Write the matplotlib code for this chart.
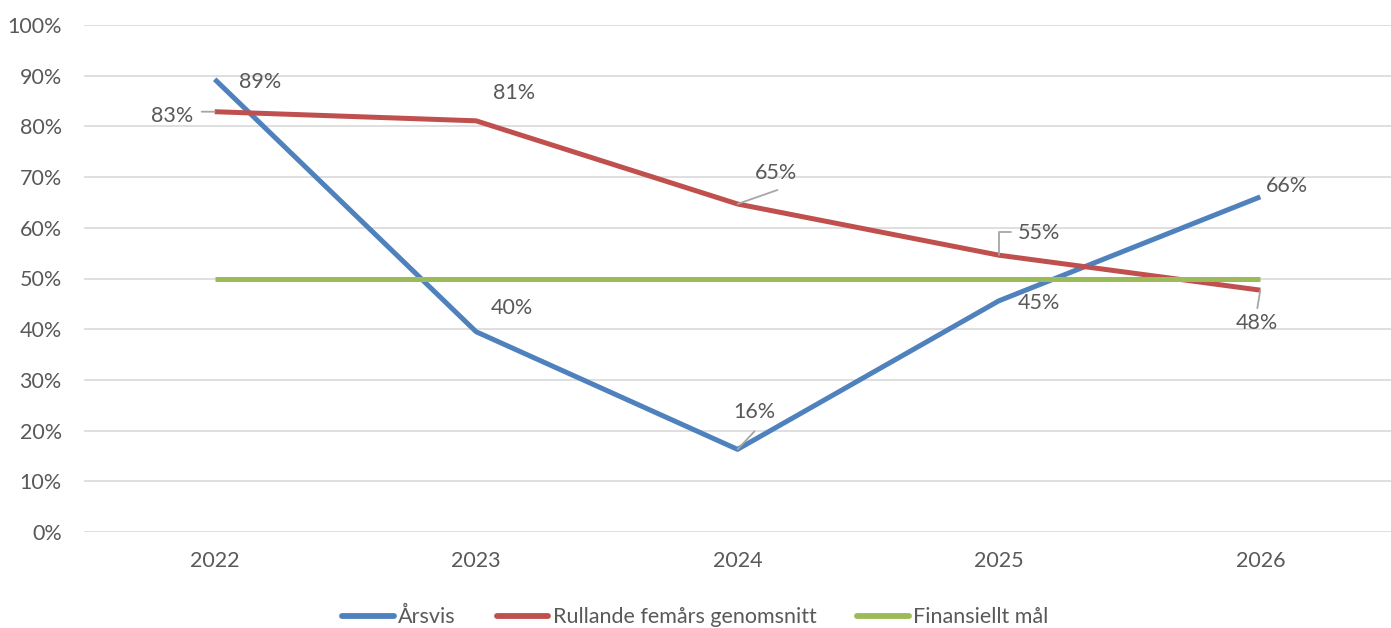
import matplotlib.pyplot as plt
import numpy as np

# Data
years = ["2022", "2023", "2024", "2025", "2026"]
arsvis = [89.3, 39.5, 16.3, 45.6, 66.1]
rullande = [82.9, 81.1, 64.7, 54.6, 47.7]
mal = [50, 50, 50, 50, 50]
arsvis_labels = ["89%", "40%", "16%", "45%", "66%"]
rullande_labels = ["83%", "81%", "65%", "55%", "48%"]

plt.rcParams["font.family"] = ["Lato", "DejaVu Sans"]
txt = "#595959"
fs = 15.5

fig = plt.figure(figsize=(13.91, 6.28), dpi=100)
ax = fig.add_axes([84 / 1391, 1 - 532 / 628, 1 - 84 / 1391, (532 - 25) / 628])

x = np.arange(len(years))
ax.plot(x, arsvis, color="#4F81BD", lw=3.6, label="Årsvis", solid_capstyle="butt")
ax.plot(x, rullande, color="#C0504D", lw=3.6, label="Rullande femårs genomsnitt", solid_capstyle="butt")
ax.plot(x, mal, color="#9BBB59", lw=3.6, label="Finansiellt mål", solid_capstyle="butt")

# label offsets in pixels (dx, dy), dy positive = up
arsvis_off = [(45, -3), (36, 24), (17, 37), (40, -2), (27, 11)]
rullande_off = [(-43, -4), (38, 28), (38, 31), (40, 22), (-3, -33)]
# leader line end (pixels) or None
arsvis_lead = [None, None, (17, 18), None, None]
rullande_lead = [(-13, 0), None, (40, 14), (12, 23), (-3, -18)]
rullande_elbow = [False, False, False, True, False]

def label(xs, ys, labs, offs, leads, elbows):
    for xi, yi, lab, (dx, dy), lead, elbow in zip(xs, ys, labs, offs, leads, elbows):
        ax.annotate(lab, (xi, yi), xytext=(dx, dy), textcoords="offset pixels",
                    ha="center", va="center", fontsize=fs, color=txt)
        if lead is not None:
            cs = "angle,angleA=0,angleB=90,rad=0" if elbow else "arc3"
            ax.annotate("", (xi, yi), xytext=lead, textcoords="offset pixels",
                        arrowprops=dict(arrowstyle="-", color="#A6A6A6", lw=1.3,
                                        shrinkA=0, shrinkB=0, connectionstyle=cs))

label(x, arsvis, arsvis_labels, arsvis_off, arsvis_lead, [False] * 5)
label(x, rullande, rullande_labels, rullande_off, rullande_lead, rullande_elbow)

ax.set_xlim(-0.5, 4.5)
ax.set_ylim(0, 100)
ax.set_yticks(np.arange(0, 101, 10))
ax.set_yticklabels([f"{v}%" for v in range(0, 101, 10)])
ax.set_xticks(x)
ax.set_xticklabels(years)
ax.tick_params(length=0, labelsize=fs, labelcolor=txt)
ax.tick_params(axis="x", pad=14)
ax.tick_params(axis="y", pad=16)
ax.grid(axis="y", color="#D9D9D9", lw=1.2)
ax.set_axisbelow(True)
for s in ax.spines.values():
    s.set_visible(False)

leg = fig.legend(loc="center", bbox_to_anchor=(0.5, 1 - 617 / 628), ncol=3, frameon=False,
                 fontsize=fs, labelcolor=txt, handlelength=2.4, handletextpad=0.2, columnspacing=1.9)
for h in leg.get_lines():
    h.set_solid_capstyle("round")
    h.set_linewidth(4.2)

fig.savefig("out.png", dpi=100)
